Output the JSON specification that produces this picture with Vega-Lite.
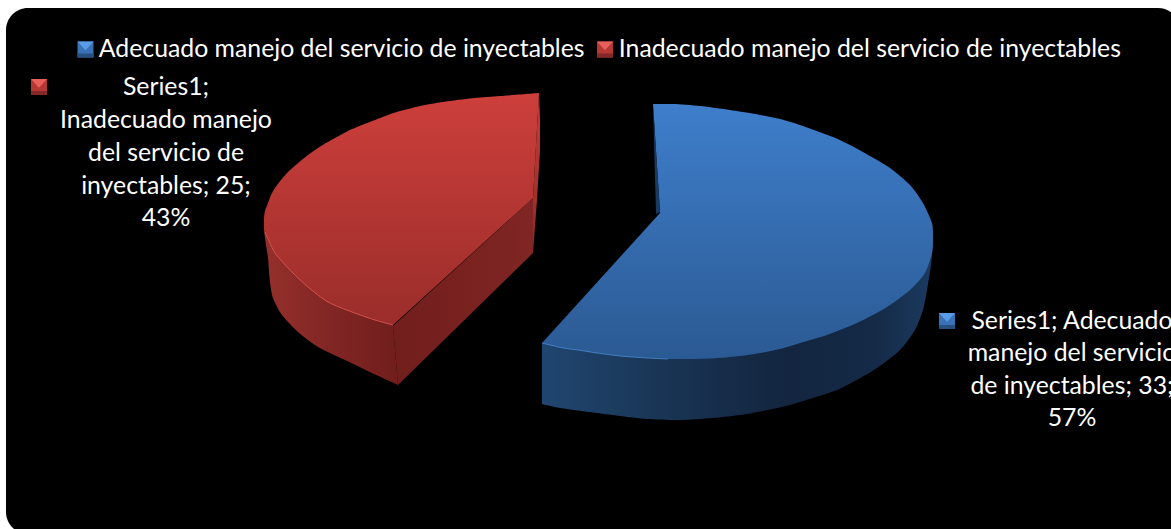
{"$schema":"https://vega.github.io/schema/vega-lite/v6.json","width":1174,"height":526,"autosize":{"type":"none"},"padding":{"left":6,"top":8,"right":0,"bottom":0},"background":"#ffffff","config":{"view":{"fill":"#000000","stroke":null,"cornerRadius":22},"text":{"font":"Lato"}},
"datasets":{
"outline":[
{"part":"blueWall","seq":1,"x":542,"y":404},{"part":"blueWall","seq":2,"x":560,"y":408},{"part":"blueWall","seq":3,"x":597,"y":413},{"part":"blueWall","seq":4,"x":620,"y":416},{"part":"blueWall","seq":5,"x":647,"y":419},{"part":"blueWall","seq":6,"x":680,"y":420},{"part":"blueWall","seq":7,"x":713,"y":418},{"part":"blueWall","seq":8,"x":740,"y":415},{"part":"blueWall","seq":9,"x":763,"y":411},{"part":"blueWall","seq":10,"x":790,"y":405},{"part":"blueWall","seq":11,"x":813,"y":398},{"part":"blueWall","seq":12,"x":837,"y":390},{"part":"blueWall","seq":13,"x":853,"y":382},{"part":"blueWall","seq":14,"x":877,"y":368},{"part":"blueWall","seq":15,"x":900,"y":350},{"part":"blueWall","seq":16,"x":915,"y":330},{"part":"blueWall","seq":17,"x":923,"y":310},{"part":"blueWall","seq":18,"x":927,"y":290},{"part":"blueWall","seq":19,"x":931,"y":265},{"part":"blueWall","seq":20,"x":933,"y":240},{"part":"blueWall","seq":21,"x":925,"y":262},{"part":"blueWall","seq":22,"x":910,"y":280},{"part":"blueWall","seq":23,"x":887,"y":297},{"part":"blueWall","seq":24,"x":857,"y":313},{"part":"blueWall","seq":25,"x":827,"y":325},{"part":"blueWall","seq":26,"x":780,"y":340},{"part":"blueWall","seq":27,"x":730,"y":347},{"part":"blueWall","seq":28,"x":690,"y":349},{"part":"blueWall","seq":29,"x":647,"y":348},{"part":"blueWall","seq":30,"x":597,"y":343},{"part":"blueWall","seq":31,"x":560,"y":338},{"part":"blueWall","seq":32,"x":542,"y":343},
{"part":"blueTop","seq":1,"x":653,"y":104},{"part":"blueTop","seq":2,"x":673,"y":104},{"part":"blueTop","seq":3,"x":700,"y":106},{"part":"blueTop","seq":4,"x":730,"y":110},{"part":"blueTop","seq":5,"x":755,"y":114},{"part":"blueTop","seq":6,"x":780,"y":119},{"part":"blueTop","seq":7,"x":800,"y":125},{"part":"blueTop","seq":8,"x":833,"y":137},{"part":"blueTop","seq":9,"x":848,"y":144},{"part":"blueTop","seq":10,"x":863,"y":152},{"part":"blueTop","seq":11,"x":890,"y":168},{"part":"blueTop","seq":12,"x":910,"y":185},{"part":"blueTop","seq":13,"x":923,"y":203},{"part":"blueTop","seq":14,"x":932,"y":223},{"part":"blueTop","seq":15,"x":933,"y":237},{"part":"blueTop","seq":16,"x":932,"y":253},{"part":"blueTop","seq":17,"x":925,"y":273},{"part":"blueTop","seq":18,"x":910,"y":290},{"part":"blueTop","seq":19,"x":887,"y":307},{"part":"blueTop","seq":20,"x":857,"y":323},{"part":"blueTop","seq":21,"x":827,"y":335},{"part":"blueTop","seq":22,"x":800,"y":343},{"part":"blueTop","seq":23,"x":780,"y":349},{"part":"blueTop","seq":24,"x":755,"y":354},{"part":"blueTop","seq":25,"x":730,"y":357},{"part":"blueTop","seq":26,"x":710,"y":358.5},{"part":"blueTop","seq":27,"x":690,"y":359},{"part":"blueTop","seq":28,"x":668,"y":359},{"part":"blueTop","seq":29,"x":647,"y":358},{"part":"blueTop","seq":30,"x":620,"y":356},{"part":"blueTop","seq":31,"x":597,"y":353},{"part":"blueTop","seq":32,"x":578,"y":350},{"part":"blueTop","seq":33,"x":563,"y":348},{"part":"blueTop","seq":34,"x":542,"y":343},
{"part":"blueNotch","seq":1,"x":640,"y":104},{"part":"blueNotch","seq":2,"x":653,"y":104},{"part":"blueNotch","seq":3,"x":660,"y":213},{"part":"blueNotch","seq":4,"x":542,"y":343},{"part":"blueNotch","seq":5,"x":536,"y":343},
{"part":"blueInner","seq":1,"x":653,"y":104},{"part":"blueInner","seq":2,"x":656,"y":214},{"part":"blueInner","seq":3,"x":660,"y":212},
{"part":"redWall","seq":1,"x":398,"y":385},{"part":"redWall","seq":2,"x":385,"y":379},{"part":"redWall","seq":3,"x":372,"y":373},{"part":"redWall","seq":4,"x":345,"y":360},{"part":"redWall","seq":5,"x":318,"y":347},{"part":"redWall","seq":6,"x":298,"y":332},{"part":"redWall","seq":7,"x":282,"y":315},{"part":"redWall","seq":8,"x":273,"y":298},{"part":"redWall","seq":9,"x":270,"y":282},{"part":"redWall","seq":10,"x":268,"y":258},{"part":"redWall","seq":11,"x":265,"y":238},{"part":"redWall","seq":12,"x":264,"y":226},{"part":"redWall","seq":13,"x":270,"y":232},{"part":"redWall","seq":14,"x":280,"y":245},{"part":"redWall","seq":15,"x":292,"y":262},{"part":"redWall","seq":16,"x":308,"y":277},{"part":"redWall","seq":17,"x":328,"y":292},{"part":"redWall","seq":18,"x":352,"y":302},{"part":"redWall","seq":19,"x":375,"y":310},{"part":"redWall","seq":20,"x":393,"y":325},
{"part":"redCut","seq":1,"x":393,"y":326},{"part":"redCut","seq":2,"x":533,"y":198},{"part":"redCut","seq":3,"x":533,"y":253},{"part":"redCut","seq":4,"x":398,"y":385},
{"part":"redInner","seq":1,"x":539,"y":93},{"part":"redInner","seq":2,"x":540,"y":120},{"part":"redInner","seq":3,"x":540,"y":150},{"part":"redInner","seq":4,"x":537,"y":200},{"part":"redInner","seq":5,"x":533,"y":253},{"part":"redInner","seq":6,"x":533,"y":198},
{"part":"redTop","seq":1,"x":539,"y":93},{"part":"redTop","seq":2,"x":500,"y":96},{"part":"redTop","seq":3,"x":475,"y":98},{"part":"redTop","seq":4,"x":450,"y":101},{"part":"redTop","seq":5,"x":425,"y":105},{"part":"redTop","seq":6,"x":400,"y":111},{"part":"redTop","seq":7,"x":388,"y":115},{"part":"redTop","seq":8,"x":375,"y":120},{"part":"redTop","seq":9,"x":362,"y":125},{"part":"redTop","seq":10,"x":348,"y":131},{"part":"redTop","seq":11,"x":335,"y":138},{"part":"redTop","seq":12,"x":321,"y":146},{"part":"redTop","seq":13,"x":308,"y":155},{"part":"redTop","seq":14,"x":297,"y":164},{"part":"redTop","seq":15,"x":288,"y":172},{"part":"redTop","seq":16,"x":281,"y":180},{"part":"redTop","seq":17,"x":275,"y":188},{"part":"redTop","seq":18,"x":271,"y":195},{"part":"redTop","seq":19,"x":268,"y":203},{"part":"redTop","seq":20,"x":265,"y":211},{"part":"redTop","seq":21,"x":264,"y":218},{"part":"redTop","seq":22,"x":264,"y":226},{"part":"redTop","seq":23,"x":265,"y":232},{"part":"redTop","seq":24,"x":275,"y":253},{"part":"redTop","seq":25,"x":292,"y":272},{"part":"redTop","seq":26,"x":308,"y":287},{"part":"redTop","seq":27,"x":328,"y":302},{"part":"redTop","seq":28,"x":352,"y":312},{"part":"redTop","seq":29,"x":375,"y":320},{"part":"redTop","seq":30,"x":393,"y":325},
{"part":"redFill","seq":1,"x":539,"y":93},{"part":"redFill","seq":2,"x":515,"y":110},{"part":"redFill","seq":3,"x":393,"y":300},{"part":"redFill","seq":4,"x":393,"y":325},{"part":"redFill","seq":5,"x":533,"y":198}
],
"keys":[
{"category":"Adecuado manejo del servicio de inyectables","value":33,"percent":57,"x":947,"y":321},
{"category":"Inadecuado manejo del servicio de inyectables","value":25,"percent":43,"x":39,"y":87},
{"category":"Adecuado manejo del servicio de inyectables","value":33,"percent":57,"x":85.5,"y":49.5},
{"category":"Inadecuado manejo del servicio de inyectables","value":25,"percent":43,"x":605,"y":49.5}
],
"labels":[
{"line":"Series1;","x":166,"y":88},{"line":"Inadecuado manejo","x":166,"y":121},{"line":"del servicio de","x":166,"y":154},{"line":"inyectables; 25;","x":166,"y":187},{"line":"43%","x":166,"y":219},
{"line":"Series1; Adecuado","x":1072,"y":322},{"line":"manejo del servicio","x":1072,"y":354},{"line":"de inyectables; 33;","x":1072,"y":387},{"line":"57%","x":1072,"y":419}
]},
"encoding":{"x":{"field":"x","type":"quantitative","scale":{"domain":[6,1180],"nice":false,"zero":false},"axis":null},"y":{"field":"y","type":"quantitative","scale":{"domain":[534,8],"nice":false,"zero":false},"axis":null}},
"layer":[
{"data":{"name":"outline"},"transform":[{"filter":"datum.part=='blueWall'"}],"mark":{"type":"line","interpolate":"cardinal","tension":0.3,"stroke":null,"fill":{"gradient":"linear","x1":0,"y1":0,"x2":1,"y2":0,"stops":[{"offset":0,"color":"#204670"},{"offset":0.3,"color":"#193555"},{"offset":0.62,"color":"#13253f"},{"offset":0.85,"color":"#142a47"},{"offset":1,"color":"#1b3a60"}]}},"encoding":{"order":{"field":"seq"}}},
{"data":{"name":"outline"},"transform":[{"filter":"datum.part=='blueTop'"}],"mark":{"type":"line","interpolate":"cardinal","tension":0.3,"stroke":null,"fill":{"gradient":"linear","x1":0,"y1":0,"x2":0,"y2":1,"stops":[{"offset":0,"color":"#3e7ecb"},{"offset":1,"color":"#2b5a93"}]}},"encoding":{"order":{"field":"seq"}}},
{"data":{"name":"outline"},"transform":[{"filter":"datum.part=='blueNotch'"}],"mark":{"type":"line","fill":"#000000","stroke":null},"encoding":{"order":{"field":"seq"}}},
{"data":{"name":"outline"},"transform":[{"filter":"datum.part=='blueInner'"}],"mark":{"type":"line","fill":"#1b3a60","stroke":null},"encoding":{"order":{"field":"seq"}}},
{"data":{"name":"outline"},"transform":[{"filter":"datum.part=='blueTop' && datum.seq>=28"}],"mark":{"type":"line","interpolate":"cardinal","tension":0.3,"stroke":"#4a8ad6","strokeWidth":1,"opacity":0.8},"encoding":{"order":{"field":"seq"}}},
{"data":{"name":"outline"},"transform":[{"filter":"datum.part=='redInner'"}],"mark":{"type":"line","stroke":null,"fill":{"gradient":"linear","x1":0,"y1":0,"x2":0,"y2":1,"stops":[{"offset":0,"color":"#c83d39"},{"offset":1,"color":"#8a2a27"}]}},"encoding":{"order":{"field":"seq"}}},
{"data":{"name":"outline"},"transform":[{"filter":"datum.part=='redWall'"}],"mark":{"type":"line","interpolate":"cardinal","tension":0.3,"stroke":null,"fill":{"gradient":"linear","x1":0,"y1":0,"x2":1,"y2":0,"stops":[{"offset":0,"color":"#95302c"},{"offset":0.5,"color":"#812624"},{"offset":1,"color":"#701e1c"}]}},"encoding":{"order":{"field":"seq"}}},
{"data":{"name":"outline"},"transform":[{"filter":"datum.part=='redCut'"}],"mark":{"type":"line","stroke":null,"fill":{"gradient":"linear","x1":0,"y1":0,"x2":1,"y2":0,"stops":[{"offset":0,"color":"#711e1c"},{"offset":1,"color":"#802624"}]}},"encoding":{"order":{"field":"seq"}}},
{"data":{"name":"outline"},"transform":[{"filter":"datum.part=='redTop'"}],"mark":{"type":"line","interpolate":"cardinal","tension":0.3,"stroke":null,"fill":{"gradient":"linear","x1":0,"y1":0,"x2":0,"y2":1,"stops":[{"offset":0,"color":"#cd3f3b"},{"offset":1,"color":"#9a2d2a"}]}},"encoding":{"order":{"field":"seq"}}},
{"data":{"name":"outline"},"transform":[{"filter":"datum.part=='redFill'"}],"mark":{"type":"line","stroke":null,"fill":{"gradient":"linear","x1":0,"y1":0,"x2":0,"y2":1,"stops":[{"offset":0,"color":"#cd3f3b"},{"offset":1,"color":"#9a2d2a"}]}},"encoding":{"order":{"field":"seq"}}},
{"data":{"name":"outline"},"transform":[{"filter":"datum.part=='redTop' && datum.seq>=23"}],"mark":{"type":"line","interpolate":"cardinal","tension":0.3,"stroke":"#d4514c","strokeWidth":1},"encoding":{"order":{"field":"seq"}}},
{"data":{"name":"keys"},"mark":{"type":"point","shape":"square","filled":true,"size":256,"opacity":1},"encoding":{"fill":{"field":"category","type":"nominal","scale":{"domain":["Adecuado manejo del servicio de inyectables","Inadecuado manejo del servicio de inyectables"],"range":["#3a72b8","#b53835"]},"legend":{"title":null,"orient":"none","legendX":67,"legendY":29,"direction":"horizontal","columns":2,"symbolType":"square","symbolSize":256,"symbolStrokeWidth":0,"symbolOpacity":0,"labelColor":"#ffffff","labelFont":"Lato","labelFontSize":24.8,"labelLimit":600,"labelOffset":1,"columnPadding":8}}}},
{"data":{"name":"keys"},"transform":[{"filter":"datum.value==33"}],"mark":{"type":"point","shape":"M -1 -1 L 1 -1 L 0 0.1 Z","filled":true,"size":256,"opacity":1,"fill":"#5a9be8"}},
{"data":{"name":"keys"},"transform":[{"filter":"datum.value==33"}],"mark":{"type":"point","shape":"M -1 1 L 1 1 L 1 0.5 L -1 0.5 Z","filled":true,"size":256,"opacity":1,"fill":"#26517f"}},
{"data":{"name":"keys"},"transform":[{"filter":"datum.value==25"}],"mark":{"type":"point","shape":"M -1 -1 L 1 -1 L 0 0.1 Z","filled":true,"size":256,"opacity":1,"fill":"#e8605b"}},
{"data":{"name":"keys"},"transform":[{"filter":"datum.value==25"}],"mark":{"type":"point","shape":"M -1 1 L 1 1 L 1 0.5 L -1 0.5 Z","filled":true,"size":256,"opacity":1,"fill":"#85282a"}},
{"data":{"name":"labels"},"mark":{"type":"text","color":"#ffffff","fontSize":24.8,"align":"center","baseline":"middle","font":"Lato"},"encoding":{"text":{"field":"line","type":"nominal"}}}
]}
